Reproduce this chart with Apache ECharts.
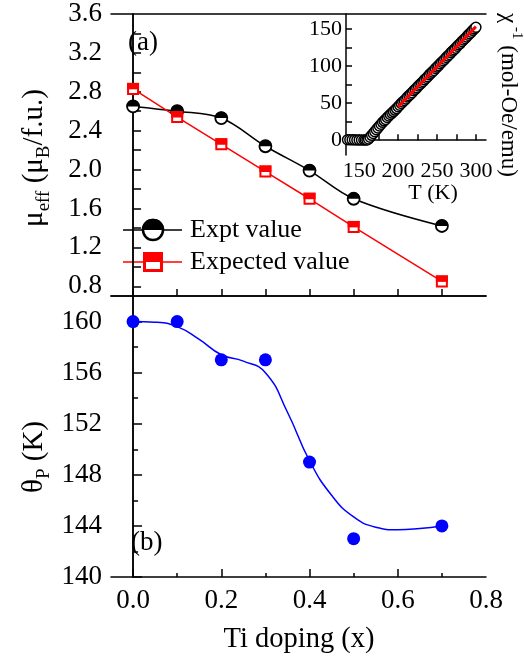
<!DOCTYPE html>
<html>
<head>
<meta charset="utf-8">
<script src="https://cdn.jsdelivr.net/npm/echarts@6/dist/echarts.min.js"></script>
<style>
html,body{margin:0;padding:0;background:#fff;}
#chart{width:524px;height:658px;}
</style>
</head>
<body>
<div id="chart"></div>
<script>
// ---- data ----
const xDoping = [0, 0.1, 0.2, 0.3, 0.4, 0.5, 0.7];
const muExpt = [2.65, 2.60, 2.53, 2.24, 1.99, 1.70, 1.42];
const muExpected = [2.83, 2.54, 2.26, 1.98, 1.70, 1.41, 0.85];
const thetaP = [160, 160, 157, 157, 149, 143, 144];
const fitX = [0, 0.05, 0.1, 0.15, 0.2, 0.25, 0.3, 0.35, 0.4, 0.45, 0.5, 0.55, 0.6, 0.65, 0.7];
const fitTheta = [160.0, 159.95, 159.6, 158.6, 157.4, 156.9, 156.0, 152.9, 149.1, 146.4, 144.7, 143.9, 143.7, 143.8, 144.0];
const insetT = [135, 138, 141, 144, 147, 150, 153, 156, 158, 160, 162, 164, 166, 168, 170, 172, 174, 176, 178, 180, 182, 184, 186, 188, 190, 192, 194, 196, 198, 200, 202, 204, 206, 208, 210, 212, 214, 216, 218, 220, 222, 224, 226, 228, 230, 232, 234, 236, 238, 240, 242, 244, 246, 248, 250, 252, 254, 256, 258, 260, 262, 264, 266, 268, 270, 272, 274, 276, 278, 280, 282, 284, 286, 288, 290, 292, 294, 296, 298, 300];
const insetChiInv = [0.5, 0.5, 0.4, 0.4, 0.3, 0.3, 0.2, 0.2, 0.2, 0.3, 1.5, 4, 6.5, 9, 11.5, 14, 16.5, 19, 21.5, 24, 26, 28, 30.5, 32.5, 34.5, 36.5, 38.5, 40.5, 42.5, 45, 47, 49.5, 51.5, 53.5, 55.5, 58, 60, 62, 64, 66.5, 68.5, 70.5, 73, 75, 77, 79, 81.5, 83.5, 85.5, 88, 90, 92, 94, 96.5, 98.5, 100.5, 103, 105, 107, 109, 111.5, 113.5, 115.5, 118, 120, 122, 124, 126.5, 128.5, 130.5, 133, 135, 137, 139, 141.5, 143.5, 145.5, 148, 150, 152];
const insetFitT = [200, 300];
const insetFitChi = [45, 153];
// tick values
const muLabels = [0.8, 1.2, 1.6, 2.0, 2.4, 2.8, 3.2, 3.6];
const muTicks = [0.8, 1.0, 1.2, 1.4, 1.6, 1.8, 2.0, 2.2, 2.4, 2.6, 2.8, 3.0, 3.2, 3.4];
const thetaLabels = [140, 144, 148, 152, 156, 160];
const thetaMinor = [142, 146, 150, 154, 158];
const dopingLabels = [0.0, 0.2, 0.4, 0.6, 0.8];
const dopingMajor = [0.0, 0.2, 0.4, 0.6];
const dopingMinor = [0.1, 0.3, 0.5, 0.7];
const dopingAll = [0.0, 0.1, 0.2, 0.3, 0.4, 0.5, 0.6, 0.7];
const tLabels = [150, 200, 250, 300];
const tTicks = [150, 175, 200, 225, 250, 275, 300];
const chiLabels = [0, 50, 100, 150];
const chiTicks = [0, 25, 50, 75, 100, 125, 150];

const FONT = 'Liberation Serif';
const TICKFS = 27;
const chart = echarts.init(document.getElementById('chart'));
const lineStyleAxis = {color: '#000', width: 1.5};
const pair = (xs, ys) => xs.map((x, i) => [x, ys[i]]);
const halfDisc = 'path://M0,5 A5,5 0 0 1 10,5 Z';
const halfRect = 'path://M0,0 L10,0 L10,5 L0,5 Z';

const option = {
  animation: false,
  backgroundColor: '#fff',
  grid: [
    {left: 111, right: 38, top: 14, height: 282},
    {left: 111, right: 38, top: 296, bottom: 81},
    {left: 346, right: 38, top: 14, height: 141}
  ],
  xAxis: [
    {gridIndex: 0, type: 'value', min: -0.05, max: 0.8, position: 'bottom',
     axisLine: {lineStyle: lineStyleAxis}, splitLine: {show: false},
     axisTick: {inside: true, length: 7, lineStyle: lineStyleAxis, customValues: dopingAll},
     axisLabel: {show: false}},
    {gridIndex: 0, type: 'value', min: -0.05, max: 0.8, position: 'top',
     axisLine: {lineStyle: lineStyleAxis}, splitLine: {show: false},
     axisTick: {show: false}, axisLabel: {show: false}},
    {gridIndex: 1, type: 'value', min: -0.05, max: 0.8, position: 'bottom',
     axisLine: {lineStyle: lineStyleAxis}, splitLine: {show: false},
     axisTick: {inside: true, length: 8, lineStyle: lineStyleAxis, customValues: dopingMajor},
     axisLabel: {margin: 10, fontFamily: FONT, fontSize: TICKFS, color: '#000', customValues: dopingLabels,
       formatter: v => v.toFixed(1)}},
    {gridIndex: 1, type: 'value', min: -0.05, max: 0.8, position: 'bottom',
     axisLine: {show: false}, splitLine: {show: false},
     axisTick: {inside: true, length: 4, lineStyle: lineStyleAxis, customValues: dopingMinor},
     axisLabel: {show: false}},
    {gridIndex: 1, type: 'value', min: -0.05, max: 0.8, position: 'top',
     axisLine: {lineStyle: lineStyleAxis}, splitLine: {show: false},
     axisTick: {show: false}, axisLabel: {show: false}},
    {gridIndex: 2, type: 'value', min: 133, max: 313, position: 'bottom',
     axisLine: {lineStyle: lineStyleAxis}, splitLine: {show: false},
     axisTick: {inside: true, length: 6, lineStyle: lineStyleAxis, customValues: tTicks},
     axisLabel: {margin: 5, fontFamily: FONT, fontSize: 22, color: '#000', customValues: tLabels}}
  ],
  yAxis: [
    {gridIndex: 0, type: 'value', min: 0.7, max: 3.6, position: 'left',
     axisLine: {lineStyle: lineStyleAxis}, splitLine: {show: false},
     axisTick: {inside: true, length: 8, lineStyle: lineStyleAxis, customValues: muTicks},
     axisLabel: {margin: 9, fontFamily: FONT, fontSize: TICKFS, color: '#000', customValues: muLabels,
       formatter: v => v.toFixed(1)}},
    {gridIndex: 0, type: 'value', min: 0.7, max: 3.6, position: 'right',
     axisLine: {lineStyle: lineStyleAxis}, splitLine: {show: false},
     axisTick: {inside: false, length: 5, lineStyle: lineStyleAxis, customValues: muTicks},
     axisLabel: {show: false}},
    {gridIndex: 1, type: 'value', min: 140, max: 162, position: 'left',
     axisLine: {lineStyle: lineStyleAxis}, splitLine: {show: false},
     axisTick: {inside: true, length: 9, lineStyle: lineStyleAxis, customValues: thetaLabels},
     axisLabel: {margin: 9, fontFamily: FONT, fontSize: TICKFS, color: '#000', customValues: thetaLabels}},
    {gridIndex: 1, type: 'value', min: 140, max: 162, position: 'left',
     axisLine: {show: false}, splitLine: {show: false},
     axisTick: {inside: true, length: 5, lineStyle: lineStyleAxis, customValues: thetaMinor},
     axisLabel: {show: false}},
    {gridIndex: 1, type: 'value', min: 140, max: 162, position: 'right',
     axisLine: {lineStyle: lineStyleAxis}, splitLine: {show: false},
     axisTick: {show: false}, axisLabel: {show: false}},
    {gridIndex: 2, type: 'value', min: -20, max: 170, position: 'left',
     axisLine: {lineStyle: lineStyleAxis}, splitLine: {show: false},
     axisTick: {inside: true, length: 6, lineStyle: lineStyleAxis, customValues: chiTicks},
     axisLabel: {margin: 4, fontFamily: FONT, fontSize: 22, color: '#000', customValues: chiLabels}}
  ],
  series: [
    {name: 'Expt value', type: 'line', xAxisIndex: 0, yAxisIndex: 0, data: pair(xDoping, muExpt),
     smooth: 0.35, lineStyle: {color: '#000', width: 1.5},
     symbol: 'circle', symbolSize: 12, itemStyle: {color: '#fff', borderColor: '#000', borderWidth: 1.8, opacity: 1}, z: 3},
    {type: 'scatter', xAxisIndex: 0, yAxisIndex: 0, data: pair(xDoping, muExpt),
     symbol: halfDisc, symbolSize: [13, 6.5], symbolOffset: [0, -3.25], itemStyle: {color: '#000', opacity: 1}, z: 4},
    {name: 'Expected value', type: 'line', xAxisIndex: 0, yAxisIndex: 0, data: pair(xDoping, muExpected),
     lineStyle: {color: '#ff0000', width: 1.5},
     symbol: 'rect', symbolSize: 10, itemStyle: {color: '#fff', borderColor: '#ff0000', borderWidth: 2, opacity: 1}, z: 3},
    {type: 'scatter', xAxisIndex: 0, yAxisIndex: 0, data: pair(xDoping, muExpected),
     symbol: halfRect, symbolSize: [12, 6.5], symbolOffset: [0, -2.8], itemStyle: {color: '#ff0000', opacity: 1}, z: 4},
    {type: 'line', xAxisIndex: 2, yAxisIndex: 2, data: pair(fitX, fitTheta),
     smooth: 0.5, showSymbol: false, symbol: 'none', lineStyle: {color: '#0000ff', width: 1.5}, z: 2},
    {type: 'scatter', xAxisIndex: 2, yAxisIndex: 2, data: pair(xDoping, thetaP),
     symbol: 'circle', symbolSize: 13, itemStyle: {color: '#0000ff', opacity: 1}, z: 3},
    {type: 'scatter', xAxisIndex: 5, yAxisIndex: 5, data: pair(insetT, insetChiInv),
     symbol: 'circle', symbolSize: 10, itemStyle: {color: '#fff', borderColor: '#000', borderWidth: 1.5, opacity: 1}, z: 3},
    {type: 'line', xAxisIndex: 5, yAxisIndex: 5, data: pair(insetFitT, insetFitChi),
     symbol: 'none', lineStyle: {color: '#ff0000', width: 3}, z: 4}
  ],
  graphic: [
    {type: 'text', x: 128, y: 43, style: {text: '(a)', font: '27px "Liberation Serif"', fill: '#000', verticalAlign: 'middle'}},
    {type: 'text', x: 131, y: 543, style: {text: '(b)', font: '27px "Liberation Serif"', fill: '#000', verticalAlign: 'middle'}},
    // legend
    {type: 'line', shape: {x1: 123, y1: 230, x2: 182, y2: 230}, style: {stroke: '#000', lineWidth: 1.5}},
    {type: 'circle', shape: {cx: 153, cy: 230, r: 10}, style: {fill: '#fff', stroke: '#000', lineWidth: 2.5}},
    {type: 'sector', shape: {cx: 153, cy: 230, r: 11.2, r0: 0, startAngle: Math.PI, endAngle: 2 * Math.PI, clockwise: true}, style: {fill: '#000'}},
    {type: 'text', x: 190, y: 230, style: {text: 'Expt value', font: '26px "Liberation Serif"', fill: '#000', verticalAlign: 'middle'}},
    {type: 'line', shape: {x1: 123, y1: 262, x2: 182, y2: 262}, style: {stroke: '#ff0000', lineWidth: 1.5}},
    {type: 'rect', shape: {x: 144.5, y: 253.5, width: 17, height: 17}, style: {fill: '#fff', stroke: '#ff0000', lineWidth: 3}},
    {type: 'rect', shape: {x: 143, y: 252, width: 20, height: 10}, style: {fill: '#ff0000'}},
    {type: 'text', x: 190, y: 262, style: {text: 'Expected value', font: '26px "Liberation Serif"', fill: '#000', verticalAlign: 'middle'}},
    // axis titles
    {type: 'text', x: 34, y: 158, rotation: Math.PI / 2,
     style: {text: '{m|μ}{s|eff}{m| (μ}{s|B}{m|/f.u.)}', align: 'center', verticalAlign: 'middle', fill: '#000',
       rich: {m: {fontFamily: FONT, fontSize: 29, lineHeight: 40, verticalAlign: 'middle'},
              s: {fontFamily: FONT, fontSize: 19, lineHeight: 19, verticalAlign: 'bottom'}}}},
    {type: 'text', x: 34, y: 457, rotation: Math.PI / 2,
     style: {text: '{m|θ}{s|P}{m| (K)}', align: 'center', verticalAlign: 'middle', fill: '#000',
       rich: {m: {fontFamily: FONT, fontSize: 29, lineHeight: 40, verticalAlign: 'middle'},
              s: {fontFamily: FONT, fontSize: 19, lineHeight: 19, verticalAlign: 'bottom'}}}},
    {type: 'text', x: 299, y: 640,
     style: {text: 'Ti doping (x)', font: '28.5px "Liberation Serif"', fill: '#000', align: 'center', verticalAlign: 'middle'}},
    {type: 'text', x: 433, y: 193,
     style: {text: 'T (K)', font: '22px "Liberation Serif"', fill: '#000', align: 'center', verticalAlign: 'middle'}},
    {type: 'text', x: 508, y: 95, rotation: -Math.PI / 2,
     style: {text: '{m|χ}{p| -1}{m| (mol-Oe/emu)}', align: 'center', verticalAlign: 'middle', fill: '#000',
       rich: {m: {fontFamily: FONT, fontSize: 23, lineHeight: 32, verticalAlign: 'middle'},
              p: {fontFamily: FONT, fontSize: 15, lineHeight: 15, verticalAlign: 'top'}}}}
  ]
};
chart.setOption(option);
</script>
</body>
</html>
